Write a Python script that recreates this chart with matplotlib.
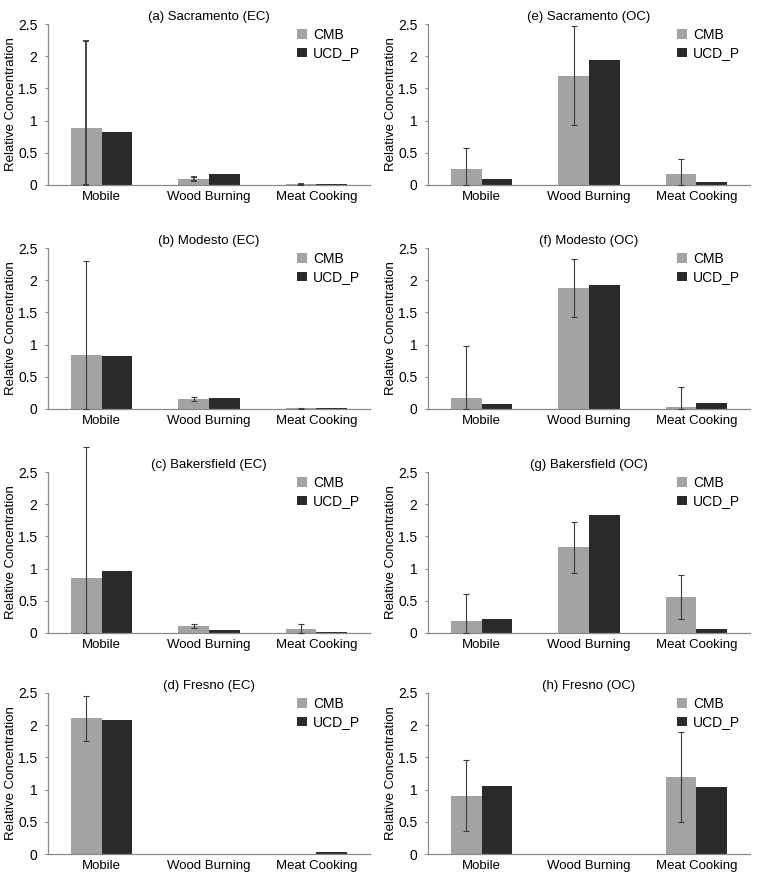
import matplotlib
matplotlib.use('Agg')
import matplotlib.pyplot as plt
import numpy as np

plt.rcParams['font.family'] = ['Liberation Sans', 'DejaVu Sans']

categories = ['Mobile', 'Wood Burning', 'Meat Cooking']
series = ['CMB', 'UCD_P']

titles = ['(a) Sacramento (EC)', '(b) Modesto (EC)', '(c) Bakersfield (EC)', '(d) Fresno (EC)',
          '(e) Sacramento (OC)', '(f) Modesto (OC)', '(g) Bakersfield (OC)', '(h) Fresno (OC)']

# CMB estimates, CMB uncertainty and UCD_P estimates, one row per panel (a..h)
cmb = [[0.89, 0.093, 0.015],
       [0.845, 0.155, 0.01],
       [0.85, 0.105, 0.067],
       [2.105, 0.002, 0.003],
       [0.25, 1.70, 0.165],
       [0.175, 1.875, 0.026],
       [0.19, 1.33, 0.565],
       [0.905, 0.0, 1.195]]
cmb_err = [[1.34, 0.03, 0.008],
           [1.45, 0.035, 0.008],
           [2.04, 0.035, 0.065],
           [0.345, 0.0, 0.0],
           [0.32, 0.77, 0.235],
           [0.80, 0.45, 0.32],
           [0.42, 0.395, 0.34],
           [0.55, 0.0, 0.695]]
ucd = [[0.83, 0.165, 0.01],
       [0.825, 0.17, 0.015],
       [0.965, 0.045, 0.02],
       [2.085, 0.0, 0.026],
       [0.10, 1.945, 0.047],
       [0.073, 1.925, 0.088],
       [0.215, 1.825, 0.062],
       [1.05, 0.0, 1.04]]

c_cmb = '#a3a3a3'
c_ucd = '#2a2a2a'
spine_c = '#8a8a8a'

W, H = 765, 886
fig = plt.figure(figsize=(W / 100, H / 100), dpi=100)

col_x = [48, 428]
ax_w = 322
row_top = [24, 248, 472, 693]
ax_h = 161

x = np.arange(len(categories))
bw = 0.285

for i, title in enumerate(titles):
    col = i // 4
    row = i % 4
    left = col_x[col] / W
    bottom = 1 - (row_top[row] + ax_h) / H
    ax = fig.add_axes([left, bottom, ax_w / W, ax_h / H])

    v1 = np.array(cmb[i])
    v2 = np.array(ucd[i])
    e = np.array(cmb_err[i])
    ax.bar(x - bw / 2, v1, bw, color=c_cmb, label=series[0], zorder=2)
    ax.bar(x + bw / 2, v2, bw, color=c_ucd, label=series[1], zorder=2)

    # error bars are cut at the zero line but may run over the top
    lower = np.minimum(e, v1)
    has = e > 0
    lw = 1.3 if i == 0 else 0.8
    ax.errorbar((x - bw / 2)[has], v1[has], yerr=[lower[has], e[has]], fmt='none',
                ecolor='#3c3c3c', elinewidth=lw, capsize=2.2, capthick=lw,
                clip_on=False, zorder=3)

    ax.set_xlim(-0.5, 2.5)
    ax.set_ylim(0, 2.5)
    ax.set_yticks([0, 0.5, 1, 1.5, 2, 2.5])
    ax.set_yticklabels(['0', '0.5', '1', '1.5', '2', '2.5'])
    ax.set_xticks(x)
    ax.set_xticklabels(categories)
    ax.tick_params(axis='x', length=0, pad=4, labelsize=9.5)
    ax.tick_params(axis='y', length=2.5, width=0.8, color=spine_c, pad=5, labelsize=10)
    for s in ['top', 'right']:
        ax.spines[s].set_visible(False)
    for s in ['left', 'bottom']:
        ax.spines[s].set_color(spine_c)
        ax.spines[s].set_linewidth(0.9)
    ax.set_ylabel('Relative Concentration', fontsize=9.5, labelpad=1)
    ax.set_title(title, fontsize=9.5, pad=3)
    ax.legend(loc='upper right', bbox_to_anchor=(1.0, 1.035), frameon=False, fontsize=10,
              handlelength=0.7, handleheight=0.7, handletextpad=0.45,
              labelspacing=0.3, borderaxespad=0.3)

fig.savefig('out.png', dpi=100)
